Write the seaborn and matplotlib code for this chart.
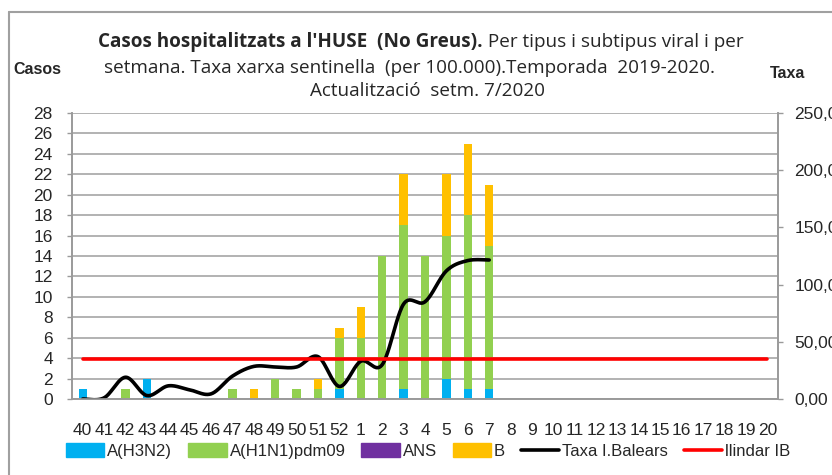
import numpy as np
import pandas as pd
import matplotlib
matplotlib.use('Agg')
import matplotlib.pyplot as plt
import seaborn as sns
from matplotlib.patches import Patch
from matplotlib.lines import Line2D

# Data
weeks = [str(w) for w in range(40, 53)] + [str(w) for w in range(1, 21)]
h3n2 = [1, 0, 0, 2, 0, 0, 0, 0, 0, 0, 0, 0, 1, 0, 0, 1, 0, 2, 1, 1] + [0] * 13
h1n1 = [0, 0, 1, 0, 0, 0, 0, 1, 0, 2, 1, 1, 5, 6, 14, 16, 14, 14, 17, 14] + [0] * 13
ans = [0] * 33
b = [0, 0, 0, 0, 0, 0, 0, 0, 1, 0, 0, 1, 1, 3, 0, 5, 0, 6, 7, 6] + [0] * 13
taxa = [0, 1, 19, 3, 11.5, 8, 4.5, 20, 28.5, 28, 28, 37, 11, 33, 30, 83, 85, 112, 121, 121.5]
llindar = [35.0] * 33

colors = {'A(H3N2)': '#00B0F0', 'A(H1N1)pdm09': '#92D050', 'ANS': '#7030A0', 'B': '#FFC000'}
grey = '#9A9A9A'
W, H = 832, 475

df = pd.DataFrame({'setmana': weeks, 'h3n2': h3n2, 'h1n1': h1n1, 'ans': ans, 'b': b})
df['s1'] = df['h3n2']
df['s2'] = df['s1'] + df['h1n1']
df['s3'] = df['s2'] + df['ans']
df['s4'] = df['s3'] + df['b']


def smooth(xs, ys, n=24):
    # Catmull-Rom smoothing, like Excel's "smoothed line"
    p = np.column_stack([xs, ys]).astype(float)
    p = np.vstack([p[0], p, p[-1]])
    out = []
    t = np.linspace(0, 1, n, endpoint=False)[:, None]
    for i in range(1, len(p) - 2):
        p0, p1, p2, p3 = p[i - 1], p[i], p[i + 1], p[i + 2]
        seg = 0.5 * ((2 * p1) + (-p0 + p2) * t + (2 * p0 - 5 * p1 + 4 * p2 - p3) * t ** 2
                     + (-p0 + 3 * p1 - 3 * p2 + p3) * t ** 3)
        out.append(seg)
    out.append(p[-2][None, :])
    out = np.vstack(out)
    return out[:, 0], out[:, 1]


sns.set_theme(style='white')
plt.rcParams['font.family'] = ['Liberation Sans', 'DejaVu Sans']
tick_fs = 12.5

fig = plt.figure(figsize=(W / 100, H / 100), dpi=100)
ax = fig.add_axes([72 / W, 1 - 399 / H, 706 / W, 286 / H])

# stacked bars: draw cumulative totals from the top down
for col, name in [('s4', 'B'), ('s3', 'ANS'), ('s2', 'A(H1N1)pdm09'), ('s1', 'A(H3N2)')]:
    sns.barplot(data=df, x='setmana', y=col, order=weeks, color=colors[name],
                saturation=1, width=0.39, linewidth=0, ax=ax)

ax.set_xlim(-0.5, 32.5)
ax.set_ylim(0, 28)
ax.set_yticks(range(0, 29, 2))
ax.set_xlabel('')
ax.set_ylabel('')
ax.set_axisbelow(True)
ax.yaxis.grid(True, color='#A6A6A6', lw=1.2)
ax.set_xticks(np.arange(-0.5, 33, 1))
ax.set_xticklabels([])
ax.set_xticks(range(len(weeks)), labels=weeks, minor=True)
ax.tick_params(axis='x', which='major', length=3.8, width=1, color=grey, direction='out')
ax.tick_params(axis='x', which='minor', length=0, pad=17, labelsize=tick_fs)
ax.tick_params(axis='y', length=3.8, width=1, color=grey, direction='out', pad=10, labelsize=tick_fs)
for s in ['left', 'right', 'bottom']:
    ax.spines[s].set_color(grey)
    ax.spines[s].set_linewidth(1.2)
ax.spines['top'].set_visible(False)

ax2 = ax.twinx()
xs, ys = smooth(np.arange(len(taxa)), taxa)
sns.lineplot(x=xs, y=ys, sort=False, estimator=None, color='black', lw=2.6, ax=ax2)
sns.lineplot(x=np.arange(len(llindar)), y=llindar, color='#FF0000', lw=2.6, ax=ax2)
ax2.set_ylim(0, 250)
ax2.set_yticks(range(0, 251, 50))
ax2.set_yticklabels([f'{v:.2f}'.replace('.', ',') for v in range(0, 251, 50)])
ax2.tick_params(axis='y', length=3.8, width=1, color=grey, direction='out', pad=8, labelsize=tick_fs)
ax2.set_ylabel('')
for s in ['left', 'right', 'bottom']:
    ax2.spines[s].set_color(grey)
    ax2.spines[s].set_linewidth(1.2)
ax2.spines['top'].set_visible(False)

# outer chart frame
fig.add_artist(Line2D([9 / W, 1], [1 - 12 / H] * 2, transform=fig.transFigure, color='#A0A0A0', lw=1.5))
fig.add_artist(Line2D([9 / W] * 2, [0, 1 - 12 / H], transform=fig.transFigure, color='#A0A0A0', lw=1.5))

# title
title_font = ['Open Sans', 'DejaVu Sans']
tfs = 13.6
r = fig.canvas.get_renderer()
t1 = fig.text(0, 1 - 47 / H, "Casos hospitalitzats a l'HUSE  (No Greus).", fontsize=tfs,
              fontweight='bold', family=title_font, va='baseline', ha='left')
t2 = fig.text(0, 1 - 47 / H, " Per tipus i subtipus viral i per", fontsize=tfs,
              family=title_font, va='baseline', ha='left')
w1 = t1.get_window_extent(r).width
w2 = t2.get_window_extent(r).width
x0 = 421 - (w1 + w2) / 2
t1.set_x(x0 / W)
t2.set_x((x0 + w1) / W)
fig.text(410 / W, 1 - 73 / H, 'setmana. Taxa xarxa sentinella  (per 100.000).Temporada  2019-2020.',
         fontsize=tfs, family=title_font, va='baseline', ha='center')
fig.text(427 / W, 1 - 96 / H, 'Actualització  setm. 7/2020',
         fontsize=tfs, family=title_font, va='baseline', ha='center')

fig.text(37 / W, 1 - 69 / H, 'Casos', fontsize=11.5, fontweight='bold', ha='center', va='center')
fig.text(788 / W, 1 - 73 / H, 'Taxa', fontsize=11.5, fontweight='bold', ha='center', va='center')

# legend
handles = [Patch(color=colors[k]) for k in colors] + \
          [Line2D([], [], color='black', lw=2.6), Line2D([], [], color='#FF0000', lw=2.6)]
labels = list(colors) + ['Taxa I.Balears', 'llindar IB']
fig.legend(handles, labels, loc='center left', bbox_to_anchor=(66 / W, 1 - 451 / H), ncol=6,
           frameon=False, fontsize=12, handlelength=2.3, handleheight=0.84,
           handletextpad=0.18, columnspacing=0.95, borderpad=0, borderaxespad=0)

fig.savefig('out.png', dpi=100)
